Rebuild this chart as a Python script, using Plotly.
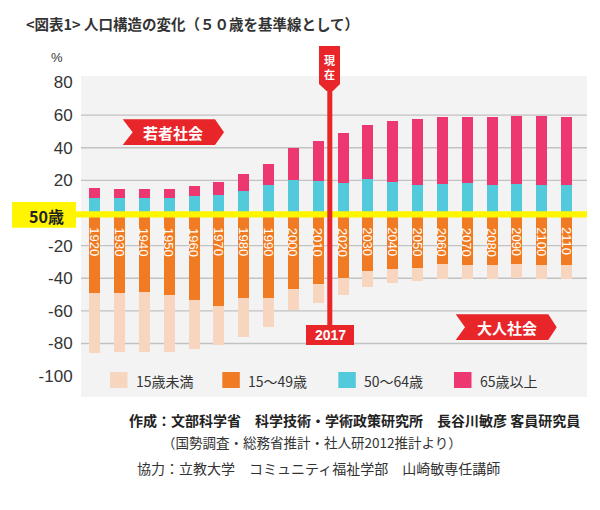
import plotly.graph_objects as go

# ---------------- data ----------------
years = [1920, 1930, 1940, 1950, 1960, 1970, 1980, 1990, 2000, 2010,
         2020, 2030, 2040, 2050, 2060, 2070, 2080, 2090, 2100, 2110]
year_labels = [str(y) for y in years]
series_names = ["15歳未満", "15～49歳", "50～64歳", "65歳以上"]

# share (%) relative to the 50-year-old baseline; below-baseline groups are plotted downward
under15 = [36.8, 36.2, 36.8, 34.9, 30.1, 23.9, 23.9, 17.8, 12.9, 11.7,
           10.4, 9.8, 8.6, 8.0, 9.2, 8.6, 8.6, 8.6, 8.6, 8.6]
age15_49 = [49.0, 49.0, 48.4, 50.3, 53.3, 57.0, 52.1, 52.1, 46.6, 43.5,
            39.9, 35.6, 34.3, 33.7, 31.3, 31.9, 31.9, 31.3, 31.9, 31.9]
age50_64 = [9.4, 9.4, 9.4, 9.4, 10.4, 11.0, 13.5, 17.2, 20.2, 19.6,
            18.4, 20.8, 19.0, 17.2, 17.8, 18.4, 17.2, 17.8, 17.2, 17.2]
over65 = [5.9, 5.3, 5.3, 5.3, 6.2, 8.0, 10.4, 12.8, 19.7, 24.5,
          30.6, 33.2, 37.4, 40.4, 41.1, 40.5, 41.7, 41.7, 42.3, 41.7]

y_tick_vals = [80, 60, 40, 20, -20, -40, -60, -80, -100]
grid_vals = [60, 40, 20, -20, -40, -60, -80]
current_year_label = "2017"

title_text = "<図表1> 人口構造の変化（５０歳を基準線として）"
credit_lines = [
    "作成：文部科学省　科学技術・学術政策研究所　長谷川敏彦 客員研究員",
    "（国勢調査・総務省推計・社人研2012推計より）",
    "協力：立教大学　コミュニティ福祉学部　山崎敏専任講師",
]

# ---------------- style ----------------
C_PEACH = "#f7d5bf"
C_ORANGE = "#f07b22"
C_CYAN = "#52cadb"
C_PINK = "#ec3770"
C_RED = "#e8262a"
C_YELLOW = "#fff500"
C_BG = "#f3f3f3"
C_GRID = "#c2c2c2"
C_TEXT = "#333333"
colors = [C_PEACH, C_ORANGE, C_CYAN, C_PINK]

JP = "Noto Sans CJK JP"
NUM = "Liberation Sans, Arial, sans-serif"

OFF = 8  # page body margin
W_FIG, H_FIG = 600 - OFF, 510 - OFF
PL, PR, PT, PB = 81, 587, 76, 397  # plot area in window pixels
PW, PH = PR - PL, PB - PT


def xp(px):
    return (px - PL) / PW


def yp(py):
    return (PB - py) / PH


def path(points):
    return "M " + " L ".join(f"{xp(x):.5f},{yp(y):.5f}" for x, y in points) + " Z"


fig = go.Figure()
bar_w = 4.43
fig.add_bar(x=years, y=[-v for v in age15_49], name=series_names[1],
            marker=dict(color=C_ORANGE, line=dict(width=0)), width=bar_w)
fig.add_bar(x=years, y=[-v for v in under15], name=series_names[0],
            marker=dict(color=C_PEACH, line=dict(width=0)), width=bar_w)
fig.add_bar(x=years, y=age50_64, name=series_names[2],
            marker=dict(color=C_CYAN, line=dict(width=0)), width=bar_w)
fig.add_bar(x=years, y=over65, name=series_names[3],
            marker=dict(color=C_PINK, line=dict(width=0)), width=bar_w)

shapes = []
for g in grid_vals:
    shapes.append(dict(type="line", xref="paper", yref="y", x0=0, x1=1, y0=g, y1=g,
                       line=dict(color=C_GRID, width=1.3), layer="below"))

# 50歳 baseline
shapes.append(dict(type="rect", xref="paper", yref="paper", x0=xp(76), x1=1,
                   y0=yp(217.6), y1=yp(211.2), fillcolor=C_YELLOW, line=dict(width=0), layer="above"))
shapes.append(dict(type="rect", xref="paper", yref="paper", x0=xp(12), x1=xp(76),
                   y0=yp(227.7), y1=yp(202), fillcolor=C_YELLOW, line=dict(width=0), layer="above"))

# banners
shapes.append(dict(type="path", xref="paper", yref="paper", layer="above",
                   path=path([(122.7, 119.3), (215, 119.3), (224, 132.2), (215, 145),
                              (122.7, 145), (132.7, 132.2)]),
                   fillcolor=C_RED, line=dict(width=0)))
shapes.append(dict(type="path", xref="paper", yref="paper", layer="above",
                   path=path([(455.7, 314.3), (548.3, 314.3), (556.7, 327.2), (548.3, 340),
                              (455.7, 340), (465, 327.2)]),
                   fillcolor=C_RED, line=dict(width=0)))

# current-year marker
shapes.append(dict(type="path", xref="paper", yref="paper", layer="above",
                   path=path([(319, 46), (340, 46), (340, 84), (333, 91), (326.5, 91), (319, 84)]),
                   fillcolor=C_RED, line=dict(width=0)))
shapes.append(dict(type="rect", xref="paper", yref="paper", layer="above",
                   x0=xp(327.3), x1=xp(332.3), y0=yp(326), y1=yp(89),
                   fillcolor=C_RED, line=dict(width=0)))
shapes.append(dict(type="rect", xref="paper", yref="paper", layer="above",
                   x0=xp(306), x1=xp(354), y0=yp(345), y1=yp(325),
                   fillcolor=C_RED, line=dict(width=0)))

# legend swatches
leg_sw_x = [110, 222.3, 338.3, 454]
for sx, col in zip(leg_sw_x, colors):
    shapes.append(dict(type="rect", xref="paper", yref="paper", layer="above",
                       x0=xp(sx), x1=xp(sx + 17.5), y0=yp(388), y1=yp(372),
                       fillcolor=col, line=dict(width=0)))

annotations = []
# year labels in the orange bars
for yr, lab in zip(years, year_labels):
    annotations.append(dict(x=yr, xref="x", y=yp(225.5), yref="paper", text=lab,
                            textangle=90, showarrow=False, xanchor="center", yanchor="top",
                            font=dict(family=NUM, size=13, color="white")))
# legend labels
for sx, nm in zip(leg_sw_x, series_names):
    annotations.append(dict(x=xp(sx + 24), xref="paper", y=yp(380.5), yref="paper", text=nm,
                            showarrow=False, xanchor="left", yanchor="middle",
                            font=dict(family=JP, size=14, color=C_TEXT)))
# title
annotations.append(dict(x=xp(24), xref="paper", y=yp(23), yref="paper", text=title_text,
                        showarrow=False, xanchor="left", yanchor="middle",
                        font=dict(family=JP, size=14.5, color=C_TEXT, weight="bold")))
# % unit
annotations.append(dict(x=xp(57), xref="paper", y=yp(57), yref="paper", text="%",
                        showarrow=False, xanchor="center", yanchor="middle",
                        font=dict(family=NUM, size=13, color=C_TEXT)))
# 50歳
annotations.append(dict(x=xp(46), xref="paper", y=yp(215.5), yref="paper", text="50歳",
                        showarrow=False, xanchor="center", yanchor="middle",
                        font=dict(family=JP, size=16, color="#222222", weight="bold")))
# banners text
annotations.append(dict(x=xp(173), xref="paper", y=yp(132), yref="paper", text="若者社会",
                        showarrow=False, xanchor="center", yanchor="middle",
                        font=dict(family=JP, size=15, color="white", weight="bold")))
annotations.append(dict(x=xp(506.5), xref="paper", y=yp(327), yref="paper", text="大人社会",
                        showarrow=False, xanchor="center", yanchor="middle",
                        font=dict(family=JP, size=15, color="white", weight="bold")))
# 現在 (stacked vertically in one text)
annotations.append(dict(x=xp(329.5), xref="paper", y=yp(67), yref="paper", text="現<br>在",
                        showarrow=False, xanchor="center", yanchor="middle",
                        font=dict(family=JP, size=11, color="white", weight="bold")))
annotations.append(dict(x=xp(330), xref="paper", y=yp(335), yref="paper", text=current_year_label,
                        showarrow=False, xanchor="center", yanchor="middle",
                        font=dict(family=NUM, size=14, color="white", weight="bold")))
# credits
annotations.append(dict(x=xp(582), xref="paper", y=yp(420), yref="paper", text=credit_lines[0],
                        showarrow=False, xanchor="right", yanchor="middle",
                        font=dict(family=JP, size=14, color="#222222", weight="bold")))
annotations.append(dict(x=xp(160), xref="paper", y=yp(442), yref="paper", text=credit_lines[1],
                        showarrow=False, xanchor="left", yanchor="middle",
                        font=dict(family=JP, size=13.5, color=C_TEXT)))
annotations.append(dict(x=xp(135), xref="paper", y=yp(468), yref="paper", text=credit_lines[2],
                        showarrow=False, xanchor="left", yanchor="middle",
                        font=dict(family=JP, size=14, color=C_TEXT)))

fig.update_layout(
    width=W_FIG, height=H_FIG,
    margin=dict(l=PL - OFF, r=600 - PR, t=PT - OFF, b=510 - PB, autoexpand=False),
    paper_bgcolor="white", plot_bgcolor=C_BG,
    barmode="relative", bargap=0,
    showlegend=False,
    shapes=shapes, annotations=annotations,
    xaxis=dict(range=[1914.48, 2118.26], showgrid=False, zeroline=False,
               showticklabels=False, showline=False, ticks=""),
    yaxis=dict(range=[-112.8, 84.0], showgrid=False, zeroline=False, showline=False,
               tickvals=y_tick_vals, ticktext=[str(v) for v in y_tick_vals],
               ticks="outside", ticklen=4, tickcolor="rgba(0,0,0,0)",
               tickfont=dict(family=NUM, size=17, color=C_TEXT)),
)

fig.write_html("out.html")
